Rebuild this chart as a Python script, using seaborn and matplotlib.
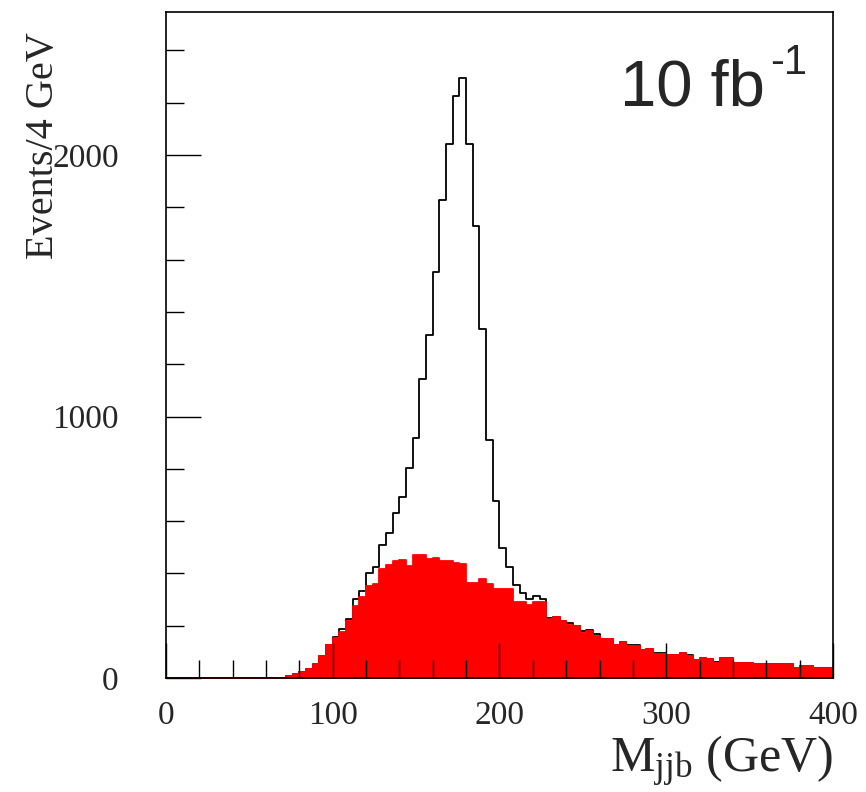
# M_jjb histogram (signal + background) with seaborn
import numpy as np
import seaborn as sns
import matplotlib.pyplot as plt
from matplotlib.ticker import MultipleLocator

# bin edges 0..400 GeV, 4 GeV per bin
bin_edges = list(range(0, 404, 4))

# background (red filled), events per 4 GeV
background = [0] * 18 + [
    8, 14, 22, 33, 54, 83, 127,                # 72-96
    154, 177, 217, 276, 309, 353, 358, 416,    # 100-128
    432, 448, 452, 429, 470, 470, 455, 459,    # 132-160
    448, 448, 441, 435, 365, 365, 377, 359,    # 164-192
    341, 342, 341, 290, 290, 279, 290, 290,    # 196-224
    225, 232, 218, 204, 199, 173, 181, 161,    # 228-256
    148, 148, 126, 139, 122, 122, 107, 111,    # 260-288
    92, 92, 89, 89, 94, 83, 70, 78,            # 292-320
    72, 59, 78, 78, 58, 58, 58, 53,            # 324-352
    53, 53, 53, 53, 53, 39, 45, 45,            # 356-384
    39, 39, 39,                                # 388-396
]

# signal + background (black outline)
total = [0] * 18 + [
    8, 14, 22, 33, 54, 83, 127,
    158, 187, 226, 303, 334, 400, 426, 509,
    556, 630, 691, 804, 917, 1142, 1312, 1553,
    1828, 2041, 2226, 2293, 2041, 1728, 1333, 910,
    678, 497, 426, 357, 324, 301, 314, 301,
    228, 232, 218, 209, 199, 181, 184, 168,
    148, 148, 126, 139, 126, 126, 107, 111,
    94, 94, 89, 89, 94, 89, 70, 78,
    72, 62, 78, 78, 58, 58, 58, 53,
    53, 53, 53, 53, 53, 39, 45, 45,
    39, 39, 39,
]

centers = [e + 2 for e in bin_edges[:-1]]

sns.set_style("ticks")
plt.rcParams["font.family"] = ["Liberation Serif", "DejaVu Serif"]
plt.rcParams["mathtext.fontset"] = "custom"
plt.rcParams["mathtext.rm"] = "Liberation Serif"
plt.rcParams["mathtext.it"] = "Liberation Serif:italic"

fig = plt.figure(figsize=(8.66, 7.92), dpi=100)
ax = fig.add_axes([166 / 866, 1 - 678 / 792, 667 / 866, 666 / 792])
ax.set_axisbelow(False)  # ticks drawn over the red fill

# draw outline first, red fill on top
sns.histplot(x=centers, weights=total, bins=bin_edges, element="step",
             fill=False, color="black", linewidth=1.3, ax=ax, zorder=1.1)
sns.histplot(x=centers, weights=background, bins=bin_edges, element="step",
             fill=True, color="#ff0000", edgecolor="#ff0000", alpha=1,
             linewidth=1.3, ax=ax, zorder=1.2)

ax.set_xlim(0, 400)
ax.set_ylim(0, 2547)

ax.xaxis.set_major_locator(MultipleLocator(100))
ax.xaxis.set_minor_locator(MultipleLocator(20))
ax.yaxis.set_major_locator(MultipleLocator(1000))
ax.yaxis.set_minor_locator(MultipleLocator(200))

ax.tick_params(which="both", direction="in", width=1.0, color="black",
               top=False, right=False)
ax.tick_params(which="major", length=25)
ax.tick_params(which="minor", length=13)
ax.tick_params(axis="y", which="major", labelsize=24, pad=34)
ax.tick_params(axis="x", which="major", labelsize=24, pad=16)

for sp in ax.spines.values():
    sp.set_linewidth(1.2)
    sp.set_color("black")

ax.set_xlabel(r"M$_{\mathrm{jjb}}$ (GeV)", fontsize=36, loc="right", labelpad=2)
ax.set_ylabel("Events/4 GeV", fontsize=29)
ax.yaxis.set_label_coords(-0.156, 0.80)

# luminosity label
fig.text(620 / 866, 1 - 105 / 792, "10 fb", fontsize=47,
         family="Liberation Sans", ha="left", va="baseline")
fig.text(770 / 866, 1 - 74 / 792, "-1", fontsize=30,
         family="Liberation Sans", ha="left", va="baseline")

fig.savefig("out.png", dpi=100)
